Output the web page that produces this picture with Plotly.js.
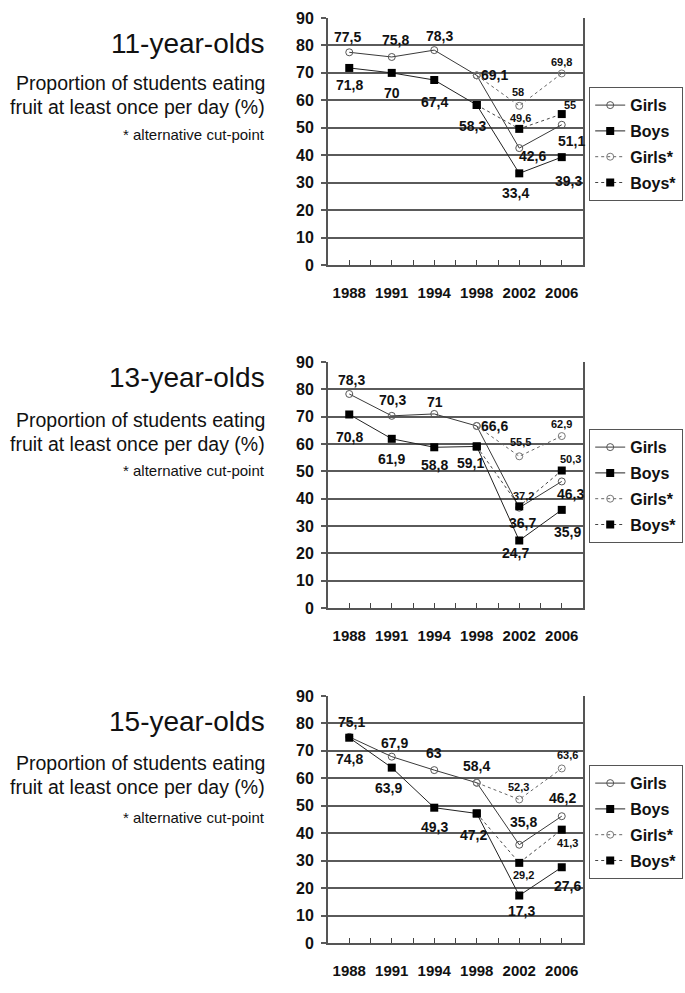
<!DOCTYPE html>
<html>
<head>
<meta charset="utf-8">
<script src="https://cdn.plot.ly/plotly-3.0.1.min.js"></script>
<style>
html,body{margin:0;padding:0;background:#fff;}
#chart{width:685px;height:993px;}
</style>
</head>
<body>
<div id="chart"></div>
<script>
// ---------- DATA ----------
const years = ["1988", "1991", "1994", "1998", "2002", "2006"];
const seriesNames = ["Girls", "Boys", "Girls*", "Boys*"];
const panelTitles = ["11-year-olds", "13-year-olds", "15-year-olds"];
const subtitleLine1 = "Proportion of students eating";
const subtitleLine2 = "fruit at least once per day (%)";
const footnote = "* alternative cut-point";

const girls11 = [77.5, 75.8, 78.3, 69.1, 42.6, 51.1];
const boys11 = [71.8, 70, 67.4, 58.3, 33.4, 39.3];
const girlsAlt11 = [null, null, null, 69.1, 58, 69.8];
const boysAlt11 = [null, null, null, 58.3, 49.6, 55];

const girls13 = [78.3, 70.3, 71, 66.6, 36.7, 46.3];
const boys13 = [70.8, 61.9, 58.8, 59.1, 24.7, 35.9];
const girlsAlt13 = [null, null, null, 66.6, 55.5, 62.9];
const boysAlt13 = [null, null, null, 59.1, 37.2, 50.3];

const girls15 = [75.1, 67.9, 63, 58.4, 35.8, 46.2];
const boys15 = [74.8, 63.9, 49.3, 47.2, 17.3, 27.6];
const girlsAlt15 = [null, null, null, 58.4, 52.3, 63.6];
const boysAlt15 = [null, null, null, 47.2, 29.2, 41.3];

// ---------- STYLE / LAYOUT ----------
const W = 685, H = 993;
const numFont = "Liberation Sans, Arial, sans-serif";
const textFont = "Liberation Sans, Arial, sans-serif";
const px2x = p => p / W;
const px2y = p => 1 - p / H;

const panels = [
  {data: [girls11, boys11, girlsAlt11, boysAlt11], top: 18, bottom: 265, legendTop: 87,
   textY: [43, 83, 107, 135],
   offs: [
     [[-2,15],[4,17],[5,14],[18,0],[13,-8],[10,-16]],
     [[0,-17],[0,-20],[0,-22],[-4,-21],[-4,-20],[7,-24]],
     [null,null,null,null,[-1,14],[0,11]],
     [null,null,null,null,[1,11],[8,9]]
   ]},
  {data: [girls13, boys13, girlsAlt13, boysAlt13], top: 362, bottom: 608, legendTop: 429,
   textY: [378, 420, 444, 471],
   offs: [
     [[2,14],[1,16],[1,12],[18,0],[3,-15],[9,-13]],
     [[0,-23],[0,-20],[0,-18],[-6,-17],[-4,-13],[6,-22]],
     [null,null,null,null,[1,14],[0,12]],
     [null,null,null,null,[4,10],[9,12]]
   ]},
  {data: [girls15, boys15, girlsAlt15, boysAlt15], top: 696, bottom: 943, legendTop: 765,
   textY: [721, 763, 787, 817],
   offs: [
     [[2,15],[3,14],[0,17],[0,17],[4,23],[1,18]],
     [[0,-21],[-3,-20],[0,-19],[-3,-22],[2,-15],[6,-19]],
     [null,null,null,null,[-1,12],[6,13]],
     [null,null,null,null,[4,-12],[6,-13]]
   ]}
];

const seriesStyle = [
  {line: {color: '#3a3a3a', width: 1}, marker: {symbol: 'circle-open', size: 7, color: '#555', line: {width: 1, color: '#555'}}},
  {line: {color: '#222', width: 1}, marker: {symbol: 'square', size: 8, color: '#000'}},
  {line: {color: '#666', width: 1, dash: 'dot'}, marker: {symbol: 'circle-open', size: 7, color: '#777', line: {width: 1, color: '#777'}}},
  {line: {color: '#444', width: 1, dash: 'dot'}, marker: {symbol: 'square', size: 8, color: '#000'}}
];

const xIdx = years.map((_, i) => i);
const traces = [];
const annotations = [];
const layout = {
  width: W, height: H,
  margin: {l: 0, r: 0, t: 0, b: 0},
  paper_bgcolor: '#fff', plot_bgcolor: '#fff',
  showlegend: true,
  annotations: annotations
};

panels.forEach((p, k) => {
  const sfx = k === 0 ? '' : String(k + 1);
  const xa = 'x' + sfx, ya = 'y' + sfx;
  const legendName = 'legend' + sfx;
  layout['xaxis' + sfx] = {
    domain: [px2x(328), px2x(583)],
    anchor: ya,
    range: [-0.5, 5.5],
    tickmode: 'array', tickvals: xIdx, ticktext: years,
    ticks: 'inside', ticklen: 5, tickwidth: 1, tickcolor: '#444',
    minor: {tickmode: 'array', tickvals: [0.5, 1.5, 2.5, 3.5, 4.5], ticks: 'inside', ticklen: 5, tickwidth: 1, tickcolor: '#444'},
    showgrid: false, zeroline: false,
    showline: true, linecolor: '#555', linewidth: 2,
    ticklabelstandoff: 13,
    tickfont: {family: numFont, size: 15, color: '#111', weight: 'bold'},
    fixedrange: true
  };
  layout['yaxis' + sfx] = {
    domain: [px2y(p.bottom), px2y(p.top)],
    anchor: xa,
    range: [0, 90], dtick: 10, tick0: 0,
    ticks: 'outside', ticklen: 5, tickwidth: 2, tickcolor: '#5a5a5a',
    showgrid: true, gridcolor: '#5a5a5a', gridwidth: 2,
    zeroline: false,
    showline: true, linecolor: '#555', linewidth: 2, mirror: true,
    ticklabelstandoff: 4,
    tickfont: {family: numFont, size: 16, color: '#111', weight: 'bold'},
    fixedrange: true
  };
  layout[legendName] = {
    x: px2x(589), xanchor: 'left',
    y: px2y(p.legendTop), yanchor: 'top',
    bordercolor: '#555', borderwidth: 1.2, bgcolor: '#fff',
    font: {family: numFont, size: 16, color: '#111', weight: 'bold'},
    itemwidth: 30, tracegroupgap: 2, traceorder: 'grouped'
  };

  p.data.forEach((vals, s) => {
    traces.push(Object.assign({
      type: 'scatter', mode: 'lines+markers',
      x: xIdx, y: vals, name: seriesNames[s],
      xaxis: xa, yaxis: ya, legend: legendName,
      legendgroup: 'p' + k + 's' + s,
      connectgaps: false, cliponaxis: false, hoverinfo: 'skip'
    }, JSON.parse(JSON.stringify(seriesStyle[s]))));
    vals.forEach((v, i) => {
      const o = p.offs[s][i];
      if (v === null || !o) return;
      annotations.push({
        xref: xa, yref: ya, x: xIdx[i], y: v,
        text: String(v).replace('.', ','),
        showarrow: false, xshift: o[0], yshift: o[1],
        xanchor: 'center', yanchor: 'middle',
        font: {family: numFont, size: s >= 2 ? 11 : 14, color: '#111', weight: 'bold'}
      });
    });
  });

  // left-side texts
  const txt = [
    {t: panelTitles[k], size: 28},
    {t: subtitleLine1, size: 19.5},
    {t: subtitleLine2, size: 19.5},
    {t: footnote, size: 15}
  ];
  txt.forEach((d, j) => {
    annotations.push({
      xref: 'paper', yref: 'paper', x: px2x(267), y: px2y(p.textY[j]),
      xanchor: 'right', yanchor: 'middle', showarrow: false,
      text: d.t, font: {family: textFont, size: d.size, color: '#111'}
    });
  });
});

Plotly.newPlot('chart', traces, layout, {displayModeBar: false, staticPlot: true});
</script>
</body>
</html>
